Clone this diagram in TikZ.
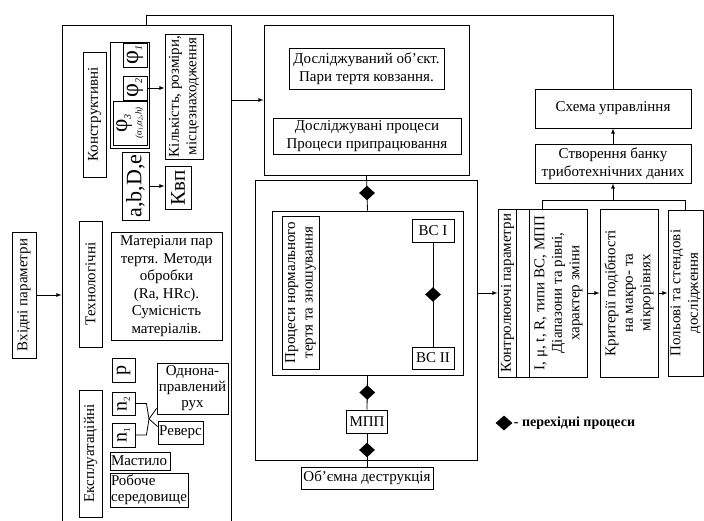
\documentclass[tikz,border=0pt]{standalone}
\usepackage{fontspec}
\setmainfont{Liberation Serif}
\usetikzlibrary{shapes.geometric,calc}

\begin{document}
\begin{tikzpicture}[x=1pt,y=-1pt,>=latex,
  box/.style={draw,line width=0.9pt,inner sep=1pt,align=center,font=\fontsize{15}{17.5}\selectfont},
  vtext/.style={rotate=90,align=center,inner sep=0pt,font=\fontsize{15}{17.5}\selectfont},
  trans/.style={diamond,fill=black,inner sep=0pt,minimum width=16pt,minimum height=15pt},
  conn/.style={line width=0.8pt}]

        \useasboundingbox (0,0) rectangle (704,521);
        \clip (0,0) rectangle (704,521);

        % input parameters
        \node[box,minimum width=169pt,minimum height=520pt] (lbox) at (146.5,285) {};
        \node[box,minimum width=24pt,minimum height=126pt,label={[vtext]center:Вхідні параметри}] (inp) at (24,295) {};
        \node[box,minimum width=23pt,minimum height=125pt,label={[vtext]center:Конструктивні}] (konstr) at (94.5,114.5) {};
        \node[box,minimum width=39pt,minimum height=106pt] (grp) at (129.5,95) {};
        \node[box,minimum width=24pt,minimum height=24pt,label={[vtext,font=\fontsize{24}{24}\selectfont]center:φ\textsubscript{\itshape\fontsize{10}{10}\selectfont 1}}] (phi1) at (135,55) {};
        \node[box,minimum width=24pt,minimum height=24pt,label={[vtext,font=\fontsize{24}{24}\selectfont]center:φ\textsubscript{\itshape\fontsize{10}{10}\selectfont 2}}] (phi2) at (135,88) {};
        \node[box,minimum width=34pt,minimum height=44pt,label={[vtext]center:{\fontsize{23}{20}\selectfont φ\textsubscript{\itshape\fontsize{10}{10}\selectfont 3}}\\[-3pt]{\fontsize{9}{9}\selectfont\itshape(α\textsubscript{1},α\textsubscript{2},h)}}] (phi3) at (130,123) {};
        \node[box,minimum width=27pt,minimum height=68pt,label={[vtext,font=\fontsize{22}{22}\selectfont]center:a,b,D,e}] (abde) at (135.5,186) {};
        \node[box,minimum width=26pt,minimum height=43pt,label={[vtext,font=\fontsize{21}{21}\selectfont]center:Квп}] (kvp) at (178,187.5) {};
        \node[box,minimum width=38pt,minimum height=125pt,label={[vtext]center:Кількість, розміри,\\місцезнаходження}] (kilk) at (184,96.5) {};
        \node[box,minimum width=23pt,minimum height=126pt,label={[vtext]center:Технологічні}] (techn) at (90.5,284) {};
        \node[box,minimum width=111pt,minimum height=108pt] (mater) at (166.5,286) {Матеріали пар\\тертя. Методи\\обробки\\(Ra, HRc).\\Сумісність\\матеріалів.};
        \node[box,minimum width=23pt,minimum height=127pt,label={[vtext]center:Експлуатаційні}] (ekspl) at (90.5,453.5) {};
        \node[box,minimum width=23pt,minimum height=24pt,label={[vtext,font=\fontsize{20}{20}\selectfont]center:p}] (p) at (123.5,370) {};
        \node[box,minimum width=23pt,minimum height=23pt,label={[vtext,font=\fontsize{20}{20}\selectfont]center:n\textsubscript{\fontsize{9}{9}\selectfont 2}}] (n2) at (123.5,403.5) {};
        \node[box,minimum width=23pt,minimum height=24pt,label={[vtext,font=\fontsize{20}{20}\selectfont]center:n\textsubscript{\fontsize{9}{9}\selectfont 1}}] (n1) at (123.5,435) {};
        \node[box,minimum width=71pt,minimum height=51pt,inner sep=0pt,font=\fontsize{15}{16}\selectfont] (odnon) at (192.5,388.5) {Однона-\\правлений\\рух};
        \node[box,minimum width=45pt,minimum height=23pt] (revers) at (180.5,432.5) {Реверс};
        \node[box,text width=58pt,align=left,minimum height=18pt] (mastylo) at (140,461) {Мастило};
        \node[box,text width=76pt,align=left,minimum height=34pt,font=\fontsize{15}{16}\selectfont] (roboche) at (149,490) {Робоче\\середовище};
        \coordinate (nfork) at (149,419);

        \draw[conn,->] (inp.east) -- (inp.east -| lbox.west);
        \draw[conn,->] (phi2.east) -- (phi2.east -| kilk.west);
        \draw[conn,->] (abde.east) -- (abde.east -| kvp.west);
        \draw[conn] (n2.east) -- ++(11,0) -- (nfork);
        \draw[conn] (n1.east) -- ++(11,0) -- (nfork);
        \draw[conn] (nfork) -- ($(odnon.south west)+(0,-6)$);
        \draw[conn] (nfork) -- ($(revers.north west)+(0,6)$);

        % object and processes
        \node[box,minimum width=205pt,minimum height=150pt] (mtop) at (366.5,100) {};
        \node[box,minimum width=155pt,minimum height=41pt] (obj) at (366.5,68.5) {Досліджуваний об'єкт.\\Пари тертя ковзання.};
        \node[box,minimum width=188pt,minimum height=36pt] (proc) at (367,136) {Досліджувані процеси\\Процеси припрацювання};
        \node[box,minimum width=222pt,minimum height=280pt] (mbig) at (366,320) {};
        \node[box,minimum width=191pt,minimum height=164pt] (inner) at (367.5,293) {};
        \node[box,minimum width=37pt,minimum height=153pt,label={[vtext]center:Процеси нормального\\тертя та зношування}] (norm) at (300.5,292.5) {};
        \node[box,minimum width=42pt,minimum height=23pt] (vs1) at (433,230.5) {ВС I};
        \node[box,minimum width=42pt,minimum height=22pt] (vs2) at (433,358) {ВС II};
        \node[box,minimum width=41pt,minimum height=23pt] (mpp) at (367,421.5) {МПП};
        \node[box,minimum width=132pt,minimum height=22pt] (volume) at (367,478) {Об'ємна деструкція};

        \draw[conn,->] (lbox.east |- mtop.west) -- (mtop.west);
        \draw[conn] (mtop.south) -- node[trans] (d1) {} (inner.north);
        \draw[conn] (vs1.south) -- node[trans] (d2) {} (vs2.north);
        \draw[conn] (inner.south) -- node[trans] (d3) {} (mpp.north);
        \draw[conn] (mpp.south) -- node[trans] (d4) {} (volume.north);

        % control and data bank
        \node[box,minimum width=156pt,minimum height=39pt] (schema) at (613,108.5) {Схема управління};
        \node[box,minimum width=156pt,minimum height=39pt] (bank) at (613,163.5) {Створення банку\\триботехнічних даних};
        \node[box,minimum width=89pt,minimum height=168pt] (kontr) at (542.5,293) {};
        \draw[conn] (kontr.north west) ++(19,0) -- ++(0,168);
        \draw[conn] (kontr.north west) ++(32,0) -- ++(0,168);
        \node[vtext] (kontrA) at (507.5,293) {Контролюючі параметри};
        \node[vtext] (kontrB) at (558.5,293) {I, μ, t, R, типи ВС, МПП\\Діапазони та рівні,\\характер зміни};
        \node[box,minimum width=58pt,minimum height=168pt,label={[vtext]center:Критерії подібності\\на макро- та\\мікрорівнях}] (krit) at (629,293) {};
        \node[box,minimum width=35pt,minimum height=166pt,label={[vtext]center:Польові та стендові\\дослідження}] (polo) at (685.5,293) {};
        \coordinate (brk) at ($(bank.south)+(0,17)$);

        \draw[conn,->] (mbig.east |- kontr.west) -- (kontr.west);
        \draw[conn,->] (kontr.east) -- (krit.west);
        \draw[conn,->] (krit.east) -- (polo.west);
        \draw[conn] (kontr.north) |- (brk) -| (polo.north);
        \draw[conn,->] (brk) -- (bank.south);
        \draw[conn,->] (bank.north) -- (schema.south);
        \draw[conn] (schema.north) -- ++(0,-73) -| (lbox.north);

        % legend
        \node[trans,minimum width=17pt] (leg) at (504,423) {};
        \node[anchor=west,inner sep=1pt,font=\fontsize{14}{16}\selectfont\bfseries] (legtext) at (leg.east) {- перехідні процеси};
\end{tikzpicture}
\end{document}
